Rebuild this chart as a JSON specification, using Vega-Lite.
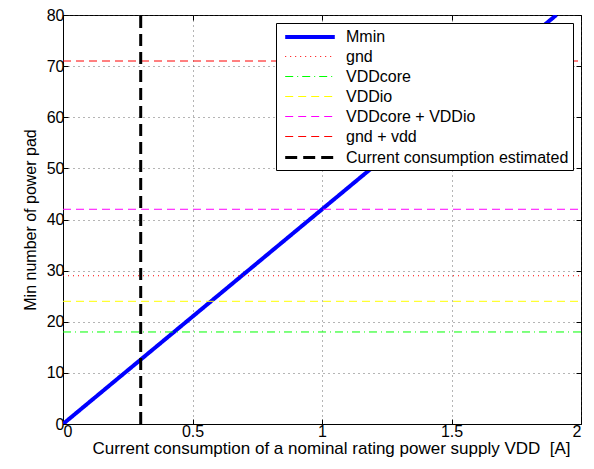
{
  "$schema": "https://vega.github.io/schema/vega-lite/v6.json",
  "width": 518,
  "height": 409,
  "autosize": {"type": "none"},
  "padding": {"left": 63, "top": 15, "right": 13, "bottom": 45},
  "background": "white",
  "config": {
    "font": "Liberation Sans",
    "view": {"stroke": "black", "strokeWidth": 1},
    "axis": {
      "labelFont": "Liberation Sans",
      "titleFont": "Liberation Sans",
      "labelFontSize": 16,
      "titleFontSize": 16,
      "titleFontWeight": "normal",
      "labelColor": "black",
      "titleColor": "black",
      "domainColor": "black",
      "tickColor": "black",
      "gridColor": "#444444",
      "gridDash": [1, 4],
      "gridWidth": 0.8,
      "tickSize": -5,
      "labelPadding": 3
    },
    "legend": {
      "labelFont": "Liberation Sans",
      "labelFontSize": 16,
      "labelColor": "black"
    }
  },
  "data": {
    "values": [
      {"series": "Mmin", "x": 0, "y": 0},
      {"series": "Mmin", "x": 1.905, "y": 80},
      {"series": "gnd", "x": 0, "y": 29},
      {"series": "gnd", "x": 2, "y": 29},
      {"series": "VDDcore", "x": 0, "y": 18},
      {"series": "VDDcore", "x": 2, "y": 18},
      {"series": "VDDio", "x": 0, "y": 24},
      {"series": "VDDio", "x": 2, "y": 24},
      {"series": "VDDcore + VDDio", "x": 0, "y": 42},
      {"series": "VDDcore + VDDio", "x": 2, "y": 42},
      {"series": "gnd + vdd", "x": 0, "y": 71},
      {"series": "gnd + vdd", "x": 2, "y": 71},
      {"series": "Current consumption estimated", "x": 0.3, "y": 0},
      {"series": "Current consumption estimated", "x": 0.3, "y": 80}
    ]
  },
  "resolve": {"axis": {"x": "independent", "y": "independent"}},
  "layer": [
    {
      "mark": {"type": "line", "clip": true, "strokeCap": "butt"},
      "encoding": {
        "x": {
          "field": "x", "type": "quantitative",
          "scale": {"domain": [0, 2], "nice": false},
          "axis": {"values": [0, 0.5, 1, 1.5, 2], "format": "~g", "grid": true, "labelPadding": 4,
                   "title": "Current consumption of a nominal rating power supply VDD\u00a0 [A]", "titleFontSize": 17, "titlePadding": 1, "titleX": 268}
        },
        "y": {
          "field": "y", "type": "quantitative",
          "scale": {"domain": [0, 80], "nice": false},
          "axis": {"values": [0, 10, 20, 30, 40, 50, 60, 70, 80], "grid": true, "labelPadding": 4,
                   "title": "Min number of power pad", "titlePadding": 8}
        },
        "order": {"field": "y", "type": "quantitative"},
        "color": {
          "field": "series", "type": "nominal",
          "scale": {
            "domain": ["Mmin", "gnd", "VDDcore", "VDDio", "VDDcore + VDDio", "gnd + vdd", "Current consumption estimated"],
            "range": ["#0000ff", "#ff0000", "#00ff00", "#ffff00", "#ff00ff", "#ff0000", "#000000"]
          },
          "legend": {
            "title": null,
            "orient": "top-right",
            "offset": 8,
            "symbolType": "M-3.1,0H3.1",
            "symbolSize": 256,
            "symbolOffset": 20,
            "strokeColor": "black",
            "fillColor": "white",
            "padding": 4,
            "rowPadding": 3,
            "labelOffset": 26,
            "labelLimit": 400,
            "cornerRadius": 0,
            "encode": {
              "symbols": {"update": {
                "stroke": {"value": {"expr": "scale('color', datum.value)"}},
                "strokeWidth": {"value": {"expr": "datum.value === 'Mmin' ? 4 : datum.value === 'Current consumption estimated' ? 3 : 1"}},
                "opacity": {"value": 1}
              }}
            }
          }
        },
        "strokeDash": {
          "field": "series", "type": "nominal",
          "scale": {
            "type": "ordinal",
            "domain": ["Mmin", "gnd", "VDDcore", "VDDio", "VDDcore + VDDio", "gnd + vdd", "Current consumption estimated"],
            "range": [[1, 0], [1, 4], [8, 4, 1, 4], [8, 5], [8, 5], [8, 5], [12, 6]]
          },
          "legend": null
        },
        "strokeWidth": {
          "field": "series", "type": "nominal",
          "scale": {
            "type": "ordinal",
            "domain": ["Mmin", "gnd", "VDDcore", "VDDio", "VDDcore + VDDio", "gnd + vdd", "Current consumption estimated"],
            "range": [4, 1, 1, 1, 1, 1, 3]
          },
          "legend": null
        }
      }
    },
    {
      "mark": {"type": "line", "opacity": 0},
      "encoding": {
        "x": {
          "field": "x", "type": "quantitative",
          "scale": {"domain": [0, 2], "nice": false},
          "axis": {"orient": "top", "values": [0, 0.5, 1, 1.5, 2], "labels": false, "domain": false, "grid": false, "title": null}
        },
        "y": {
          "field": "y", "type": "quantitative",
          "scale": {"domain": [0, 80], "nice": false},
          "axis": {"orient": "right", "values": [0, 10, 20, 30, 40, 50, 60, 70, 80], "labels": false, "domain": false, "grid": false, "title": null}
        },
        "detail": {"field": "series"}
      }
    }
  ]
}
